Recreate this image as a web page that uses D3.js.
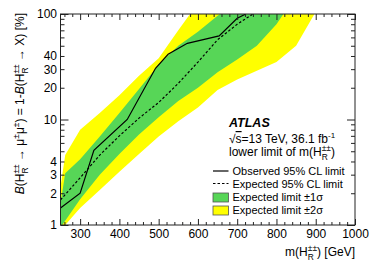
<!DOCTYPE html>
<html>
<head>
<meta charset="utf-8">
<script src="https://cdn.jsdelivr.net/npm/d3@7"></script>
<style>
  body { margin: 0; background: #fff; }
  text { font-family: "Liberation Sans", Arial, sans-serif; fill: #000; }
</style>
</head>
<body>
<script>
// observed limit (solid)
var massObs = [250, 300, 335, 420, 492, 524, 573, 654, 700, 722]
  , limObs  = [1.45, 2.0, 5.1, 10, 30.6, 41.5, 52.7, 62, 91, 100]
  ;
// expected limit (dotted)
var massExp = [250, 300, 350, 400, 450, 500, 550, 600, 650, 700, 740]
  , limExp  = [1.73, 2.8, 4.6, 7.0, 10.3, 14.5, 22, 35, 57, 80, 100]
  ;
// bands, values above 100 are clipped away
var massBand = [250, 262, 300, 350, 400, 450, 500, 550, 600, 650, 700, 750, 800, 850, 900]
  , up2 = [2.3, 4.6, 8, 11.5, 17, 26, 38, 70, 127, 180, 250, 300, 350, 400, 450]
  , up1 = [1.6, 3.1, 4.2, 6.9, 11.5, 19.5, 33, 50, 68, 96, 130, 180, 250, 300, 350]
  , lo1 = [0.95, 1.1, 1.75, 3.0, 4.7, 7.2, 10.5, 15, 20, 28, 37, 50, 80, 150, 200]
  , lo2 = [0.8, 1.0, 1.45, 2.15, 3.2, 4.7, 6.9, 9.6, 13, 19, 24, 29, 35, 50, 105]
  ;
var xMajor = [300, 400, 500, 600, 700, 800, 900, 1000]
  , yMajor = [1, 10, 100]
  , yLabels = [1, 2, 3, 4, 10, 20, 30, 40, 100]
  ;

var width = 374, height = 268
  , padL = 60.5, padR = 355, padT = 14, padB = 225
  , green = "#57d657", yellow = "#ffff00"
  ;

var svg = d3.select("body").append("svg").attr("width", width).attr("height", height);

var x = d3.scaleLinear().domain([250, 1000]).range([padL, padR])
  , y = d3.scaleLog().domain([1, 100]).range([padB, padT])
  ;

svg.append("clipPath").attr("id", "clip")
  .append("rect").attr("x", padL).attr("y", padT).attr("width", padR - padL).attr("height", padB - padT);

var plot = svg.append("g").attr("clip-path", "url(#clip)");

function band (upper, lower) {
    var pts = massBand.map(function (m, i) { return [x(m), y(upper[i])]; });
    for (var i = massBand.length; i--;) pts.push([x(massBand[i]), y(lower[i])]);
    return d3.line()(pts) + "Z";
}

plot.append("path").attr("d", band(up2, lo2)).attr("fill", yellow);
plot.append("path").attr("d", band(up1, lo1)).attr("fill", green);

var line = d3.line().x(function (d) { return x(d[0]); }).y(function (d) { return y(d[1]); });

plot.append("path")
    .attr("d", line(d3.zip(massExp, limExp)))
    .attr("fill", "none").attr("stroke", "#000").attr("stroke-width", 1.2)
    .attr("stroke-dasharray", "2.5,2");
plot.append("path")
    .attr("d", line(d3.zip(massObs, limObs)))
    .attr("fill", "none").attr("stroke", "#000").attr("stroke-width", 1.2);

// ticks, inward on all four sides
var xMinor = d3.range(260, 1000, 20).filter(function (v) { return v % 100; })
  , yMinor = [2, 3, 4, 5, 6, 7, 8, 9, 20, 30, 40, 50, 60, 70, 80, 90]
  ;

function ticks (axis, tr) {
    svg.append("g").attr("transform", tr).call(axis)
        .call(function (g) { g.select(".domain").remove(); g.selectAll("line").attr("stroke", "#222"); });
}

ticks(d3.axisBottom(x).tickValues(xMajor).tickSize(-6).tickFormat(""), "translate(0," + padB + ")");
ticks(d3.axisBottom(x).tickValues(xMinor).tickSize(-3).tickFormat(""), "translate(0," + padB + ")");
ticks(d3.axisTop(x).tickValues(xMajor).tickSize(-6).tickFormat(""), "translate(0," + padT + ")");
ticks(d3.axisTop(x).tickValues(xMinor).tickSize(-3).tickFormat(""), "translate(0," + padT + ")");
ticks(d3.axisLeft(y).tickValues(yMajor).tickSize(-8).tickFormat(""), "translate(" + padL + ",0)");
ticks(d3.axisLeft(y).tickValues(yMinor).tickSize(-4).tickFormat(""), "translate(" + padL + ",0)");
ticks(d3.axisRight(y).tickValues(yMajor).tickSize(-8).tickFormat(""), "translate(" + padR + ",0)");
ticks(d3.axisRight(y).tickValues(yMinor).tickSize(-4).tickFormat(""), "translate(" + padR + ",0)");

// labels
svg.append("g").attr("transform", "translate(0," + padB + ")")
    .call(d3.axisBottom(x).tickValues(xMajor).tickSize(0).tickPadding(4.5).tickFormat(d3.format("d")))
    .call(function (g) { g.select(".domain").remove(); g.selectAll("text").attr("font-size", 12).attr("font-family", null); });
svg.append("g").attr("transform", "translate(" + padL + ",0)")
    .call(d3.axisLeft(y).tickValues(yLabels).tickSize(0).tickPadding(3.5).tickFormat(d3.format("d")))
    .call(function (g) { g.select(".domain").remove(); g.selectAll("text").attr("font-size", 12).attr("font-family", null); });

svg.append("rect")
    .attr("x", padL).attr("y", padT).attr("width", padR - padL).attr("height", padB - padT)
    .attr("fill", "none").attr("stroke", "#222").attr("stroke-width", 1);

// H with stacked ++ and R
function hrr (t, fs, after) {
    var s = fs * 0.7;
    t.append("tspan").text("H");
    var a = t.append("tspan").attr("font-size", s).attr("dy", -fs * 0.4).text("\u00b1\u00b1");
    var wa = a.node().getComputedTextLength();
    var b = t.append("tspan").attr("font-size", s).attr("dx", -wa).attr("dy", fs * 0.75).text("R");
    var wb = b.node().getComputedTextLength();
    t.append("tspan").attr("dx", Math.max(0, wa - wb)).attr("dy", -fs * 0.35).text(after);
}
function sup (t, fs, s, after) {
    t.append("tspan").attr("font-size", fs * 0.7).attr("dy", -fs * 0.4).text(s);
    t.append("tspan").attr("dy", fs * 0.4).text(after);
}

// x title
var xt = svg.append("text").attr("x", padR).attr("y", 256).attr("text-anchor", "end").attr("font-size", 12);
xt.append("tspan").text("m(");
hrr(xt, 12, ") [GeV]");

// y title
var yt = svg.append("text").attr("transform", "translate(24,13) rotate(-90)")
    .attr("text-anchor", "end").attr("font-size", 12);
yt.append("tspan").attr("font-style", "italic").text("B");
yt.append("tspan").text("(");
hrr(yt, 12, " \u2192 \u03bc");
sup(yt, 12, "\u00b1", "\u03bc");
sup(yt, 12, "\u00b1", ") = 1-");
yt.append("tspan").attr("font-style", "italic").text("B");
yt.append("tspan").attr("font-style", "normal").text("(");
hrr(yt, 12, " \u2192 X) [%]");

// ATLAS label
svg.append("text").attr("x", 229).attr("y", 126.5).attr("font-size", 12.5)
    .attr("font-weight", "bold").attr("font-style", "italic").text("ATLAS");
var s1 = svg.append("text").attr("x", 229).attr("y", 143).attr("font-size", 12);
s1.append("tspan").text("\u221a");
s1.append("tspan").attr("text-decoration", "overline").text("s");
s1.append("tspan").text("=13 TeV, 36.1 fb");
s1.append("tspan").attr("font-size", 8).attr("dy", -5).text("-1");
var s2 = svg.append("text").attr("x", 229).attr("y", 155.5).attr("font-size", 12);
s2.append("tspan").text("lower limit of m(");
hrr(s2, 12, ")");

// legend
var legX = 213, legW = 15.5, legTextX = 232.5;
svg.append("line").attr("x1", legX).attr("x2", legX + legW).attr("y1", 171).attr("y2", 171)
    .attr("stroke", "#000").attr("stroke-width", 1.2);
svg.append("line").attr("x1", legX).attr("x2", legX + legW).attr("y1", 183.5).attr("y2", 183.5)
    .attr("stroke", "#000").attr("stroke-width", 1.2).attr("stroke-dasharray", "2.5,2");
svg.append("rect").attr("x", legX).attr("y", 193).attr("width", legW).attr("height", 9)
    .attr("fill", green).attr("stroke", "#555").attr("stroke-width", 0.8);
svg.append("rect").attr("x", legX).attr("y", 206).attr("width", legW).attr("height", 9)
    .attr("fill", yellow).attr("stroke", "#555").attr("stroke-width", 0.8);

var legText = ["Observed 95% CL limit", "Expected 95% CL limit", "Expected limit \u00b11\u03c3", "Expected limit \u00b12\u03c3"]
  , legY = [175, 187.5, 201, 214]
  ;
legText.forEach(function (t, i) {
    svg.append("text").attr("x", legTextX).attr("y", legY[i]).attr("font-size", 11).text(t);
});
</script>
</body>
</html>
